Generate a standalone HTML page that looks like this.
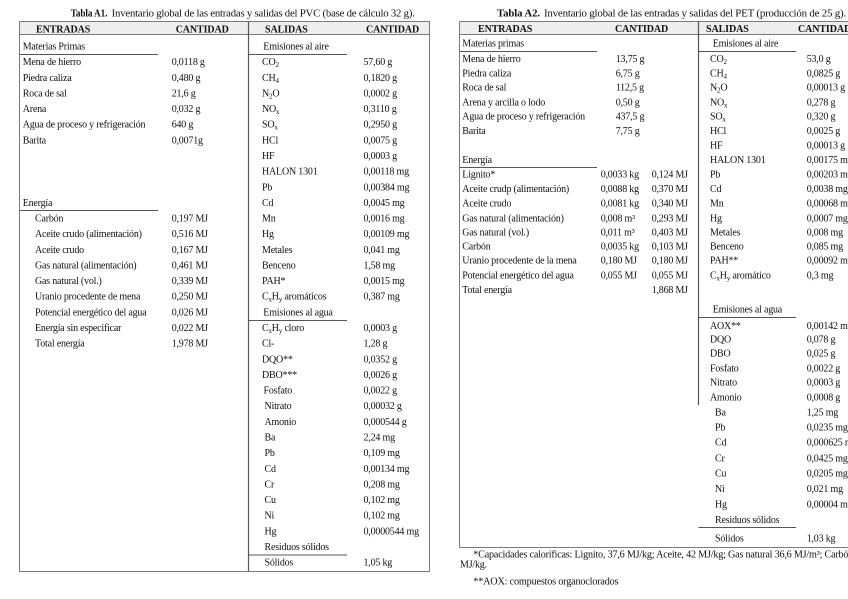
<!DOCTYPE html>
<html><head><meta charset="utf-8">
<style>
html,body{margin:0;padding:0;background:#fff;}
svg{display:block;}
text{font-family:"Liberation Serif",serif;font-size:10px;letter-spacing:-0.2px;fill:#111;}
.b{font-weight:bold;letter-spacing:-0.1px;}
.s{font-size:7px;}
</style></head>
<body>
<svg width="848" height="599" viewBox="0 0 848 599" xmlns="http://www.w3.org/2000/svg">
<rect x="0" y="0" width="848" height="599" fill="#fff"/>

<!-- ================= TABLE A1 ================= -->
<text class="b" x="70.7" y="16.5" textLength="36.6" lengthAdjust="spacingAndGlyphs">Tabla A1.</text>
<text x="111.7" y="16.5" textLength="303" lengthAdjust="spacingAndGlyphs">Inventario global de las entradas y salidas del PVC (base de cálculo 32 g).</text>

<rect x="19.5" y="21.5" width="410" height="13" fill="#eeeeee"/>
<rect x="19.5" y="21.5" width="410" height="550" fill="none" stroke="#7a7a7a" stroke-width="1"/>
<line x1="19.5" y1="34.5" x2="429.5" y2="34.5" stroke="#7a7a7a" stroke-width="1"/>
<line x1="248.5" y1="21.5" x2="248.5" y2="571.5" stroke="#555" stroke-width="1.2"/>
<line x1="19.5" y1="54.5" x2="158" y2="54.5" stroke="#555" stroke-width="1"/>
<line x1="248.5" y1="54.5" x2="347" y2="54.5" stroke="#555" stroke-width="1"/>
<line x1="19.5" y1="210.5" x2="158" y2="210.5" stroke="#555" stroke-width="1"/>
<line x1="248.5" y1="320.5" x2="347" y2="320.5" stroke="#555" stroke-width="1"/>
<line x1="248.5" y1="555" x2="347" y2="555" stroke="#555" stroke-width="1"/>

<text class="b" x="36" y="32.5">ENTRADAS</text>
<text class="b" x="175.7" y="32.5">CANTIDAD</text>
<text class="b" x="265" y="32.5">SALIDAS</text>
<text class="b" x="366" y="32.5">CANTIDAD</text>

<!-- entradas -->
<text x="22.7" y="49.5">Materias Primas</text>
<text x="22.7" y="65.1">Mena de hierro</text><text x="171.7" y="65.1">0,0118 g</text>
<text x="22.7" y="80.8">Piedra caliza</text><text x="171.7" y="80.8">0,480 g</text>
<text x="22.7" y="96.4">Roca de sal</text><text x="171.7" y="96.4">21,6 g</text>
<text x="22.7" y="112.1">Arena</text><text x="171.7" y="112.1">0,032 g</text>
<text x="22.7" y="127.7">Agua de proceso y refrigeración</text><text x="171.7" y="127.7">640 g</text>
<text x="22.7" y="143.3">Barita</text><text x="171.7" y="143.3">0,0071g</text>
<text x="22.7" y="205.9">Energía</text>
<text x="35" y="221.5">Carbón</text><text x="171.7" y="221.5">0,197 MJ</text>
<text x="35" y="237.2">Aceite crudo (alimentación)</text><text x="171.7" y="237.2">0,516 MJ</text>
<text x="35" y="252.8">Aceite crudo</text><text x="171.7" y="252.8">0,167 MJ</text>
<text x="35" y="268.5">Gas natural (alimentación)</text><text x="171.7" y="268.5">0,461 MJ</text>
<text x="35" y="284.1">Gas natural (vol.)</text><text x="171.7" y="284.1">0,339 MJ</text>
<text x="35" y="299.7">Uranio procedente de mena</text><text x="171.7" y="299.7">0,250 MJ</text>
<text x="35" y="315.4">Potencial energético del agua</text><text x="171.7" y="315.4">0,026 MJ</text>
<text x="35" y="331.0">Energía sin especificar</text><text x="171.7" y="331.0">0,022 MJ</text>
<text x="35" y="346.7">Total energía</text><text x="171.7" y="346.7">1,978 MJ</text>

<!-- salidas -->
<text x="263.3" y="49.5">Emisiones al aire</text>
<text x="262" y="65.1">CO<tspan class="s" dy="2">2</tspan></text><text x="363.5" y="65.1">57,60 g</text>
<text x="262" y="80.8">CH<tspan class="s" dy="2">4</tspan></text><text x="363.5" y="80.8">0,1820 g</text>
<text x="262" y="96.4">N<tspan class="s" dy="2">2</tspan><tspan dy="-2">O</tspan></text><text x="363.5" y="96.4">0,0002 g</text>
<text x="262" y="112.1">NO<tspan class="s" dy="2">x</tspan></text><text x="363.5" y="112.1">0,3110 g</text>
<text x="262" y="127.7">SO<tspan class="s" dy="2">x</tspan></text><text x="363.5" y="127.7">0,2950 g</text>
<text x="262" y="143.3">HCl</text><text x="363.5" y="143.3">0,0075 g</text>
<text x="262" y="159.0">HF</text><text x="363.5" y="159.0">0,0003 g</text>
<text x="262" y="174.6">HALON 1301</text><text x="363.5" y="174.6">0,00118 mg</text>
<text x="262" y="190.3">Pb</text><text x="363.5" y="190.3">0,00384 mg</text>
<text x="262" y="205.9">Cd</text><text x="363.5" y="205.9">0,0045 mg</text>
<text x="262" y="221.5">Mn</text><text x="363.5" y="221.5">0,0016 mg</text>
<text x="262" y="237.2">Hg</text><text x="363.5" y="237.2">0,00109 mg</text>
<text x="262" y="252.8">Metales</text><text x="363.5" y="252.8">0,041 mg</text>
<text x="262" y="268.5">Benceno</text><text x="363.5" y="268.5">1,58 mg</text>
<text x="262" y="284.1">PAH*</text><text x="363.5" y="284.1">0,0015 mg</text>
<text x="262" y="299.7">C<tspan class="s" dy="2">x</tspan><tspan dy="-2">H</tspan><tspan class="s" dy="2">y</tspan><tspan dy="-2"> aromáticos</tspan></text><text x="363.5" y="299.7">0,387 mg</text>
<text x="263.3" y="315.4">Emisiones al agua</text>
<text x="262" y="331.0">C<tspan class="s" dy="2">x</tspan><tspan dy="-2">H</tspan><tspan class="s" dy="2">y</tspan><tspan dy="-2"> cloro</tspan></text><text x="363.5" y="331.0">0,0003 g</text>
<text x="262" y="346.7">Cl-</text><text x="363.5" y="346.7">1,28 g</text>
<text x="262" y="362.3">DQO**</text><text x="363.5" y="362.3">0,0352 g</text>
<text x="262" y="377.9">DBO***</text><text x="363.5" y="377.9">0,0026 g</text>
<text x="263.5" y="393.6">Fosfato</text><text x="363.5" y="393.6">0,0022 g</text>
<text x="264.5" y="409.2">Nitrato</text><text x="363.5" y="409.2">0,00032 g</text>
<text x="264.5" y="424.9">Amonio</text><text x="363.5" y="424.9">0,000544 g</text>
<text x="264.5" y="440.5">Ba</text><text x="363.5" y="440.5">2,24 mg</text>
<text x="264.5" y="456.1">Pb</text><text x="363.5" y="456.1">0,109 mg</text>
<text x="264.5" y="471.8">Cd</text><text x="363.5" y="471.8">0,00134 mg</text>
<text x="264.5" y="487.4">Cr</text><text x="363.5" y="487.4">0,208 mg</text>
<text x="264.5" y="503.1">Cu</text><text x="363.5" y="503.1">0,102 mg</text>
<text x="264.5" y="518.7">Ni</text><text x="363.5" y="518.7">0,102 mg</text>
<text x="264.5" y="534.3">Hg</text><text x="363.5" y="534.3">0,0000544 mg</text>
<text x="264.5" y="550.0">Residuos sólidos</text>
<text x="264.5" y="565.6">Sólidos</text><text x="363.5" y="565.6">1,05 kg</text>

<!-- ================= TABLE A2 ================= -->
<text class="b" x="497" y="16.5" textLength="43" lengthAdjust="spacingAndGlyphs">Tabla A2.</text>
<text x="544" y="16.5" textLength="302" lengthAdjust="spacingAndGlyphs">Inventario global de las entradas y salidas del PET (producción de 25 g).</text>

<rect x="459.5" y="21.5" width="400" height="13" fill="#eeeeee"/>
<line x1="459.5" y1="21.5" x2="848" y2="21.5" stroke="#7a7a7a" stroke-width="1"/>
<line x1="459.5" y1="34.5" x2="848" y2="34.5" stroke="#7a7a7a" stroke-width="1"/>
<line x1="459.5" y1="21.5" x2="459.5" y2="547.5" stroke="#7a7a7a" stroke-width="1"/>
<line x1="459.5" y1="547.5" x2="848" y2="547.5" stroke="#7a7a7a" stroke-width="1"/>
<line x1="698.5" y1="21.5" x2="698.5" y2="405" stroke="#555" stroke-width="1.2"/>
<line x1="459.5" y1="51.5" x2="597" y2="51.5" stroke="#555" stroke-width="1"/>
<line x1="698.5" y1="51.5" x2="796" y2="51.5" stroke="#555" stroke-width="1"/>
<line x1="459.5" y1="167.5" x2="597" y2="167.5" stroke="#555" stroke-width="1"/>
<line x1="698.5" y1="317.5" x2="796" y2="317.5" stroke="#555" stroke-width="1"/>
<line x1="698.5" y1="527.5" x2="796" y2="527.5" stroke="#555" stroke-width="1"/>

<text class="b" x="478" y="31.8">ENTRADAS</text>
<text class="b" x="615" y="31.8">CANTIDAD</text>
<text class="b" x="706" y="31.8">SALIDAS</text>
<text class="b" x="798" y="31.8">CANTIDAD</text>

<!-- entradas -->
<text x="462.3" y="46.3">Materias primas</text>
<text x="462.3" y="62">Mena de hierro</text><text x="615.7" y="62">13,75 g</text>
<text x="462.3" y="76.3">Piedra caliza</text><text x="615.7" y="76.3">6,75 g</text>
<text x="462.3" y="90.7">Roca de sal</text><text x="615.7" y="90.7">112,5 g</text>
<text x="462.3" y="105.3">Arena y arcilla o lodo</text><text x="615.7" y="105.3">0,50 g</text>
<text x="462.3" y="119.7">Agua de proceso y refrigeración</text><text x="615.7" y="119.7">437,5 g</text>
<text x="462.3" y="134">Barita</text><text x="615.7" y="134">7,75 g</text>
<text x="462.3" y="163">Energía</text>
<text x="462.3" y="177.3">Lignito*</text><text x="600.7" y="177.3">0,0033 kg</text><text x="651.7" y="177.3">0,124 MJ</text>
<text x="462.3" y="192">Aceite crudp (alimentación)</text><text x="600.7" y="192">0,0088 kg</text><text x="651.7" y="192">0,370 MJ</text>
<text x="462.3" y="206.3">Aceite crudo</text><text x="600.7" y="206.3">0,0081 kg</text><text x="651.7" y="206.3">0,340 MJ</text>
<text x="462.3" y="221.3">Gas natural (alimentación)</text><text x="600.7" y="221.3">0,008 m³</text><text x="651.7" y="221.3">0,293 MJ</text>
<text x="462.3" y="235.3">Gas natural (vol.)</text><text x="600.7" y="235.3">0,011 m³</text><text x="651.7" y="235.3">0,403 MJ</text>
<text x="462.3" y="249.7">Carbón</text><text x="600.7" y="249.7">0,0035 kg</text><text x="651.7" y="249.7">0,103 MJ</text>
<text x="462.3" y="263.7">Uranio procedente de la mena</text><text x="600.7" y="263.7">0,180 MJ</text><text x="651.7" y="263.7">0,180 MJ</text>
<text x="462.3" y="278.7">Potencial energético del agua</text><text x="600.7" y="278.7">0,055 MJ</text><text x="651.7" y="278.7">0,055 MJ</text>
<text x="462.3" y="293">Total energía</text><text x="651.7" y="293">1,868 MJ</text>

<!-- salidas -->
<text x="712.7" y="46.3">Emisiones al aire</text>
<text x="710" y="62">CO<tspan class="s" dy="2">2</tspan></text><text x="806.7" y="62">53,0 g</text>
<text x="710" y="76.3">CH<tspan class="s" dy="2">4</tspan></text><text x="806.7" y="76.3">0,0825 g</text>
<text x="710" y="90.7">N<tspan class="s" dy="2">2</tspan><tspan dy="-2">O</tspan></text><text x="806.7" y="90.7">0,00013 g</text>
<text x="710" y="105.3">NO<tspan class="s" dy="2">x</tspan></text><text x="806.7" y="105.3">0,278 g</text>
<text x="710" y="119.7">SO<tspan class="s" dy="2">x</tspan></text><text x="806.7" y="119.7">0,320 g</text>
<text x="710" y="134">HCl</text><text x="806.7" y="134">0,0025 g</text>
<text x="710" y="148.7">HF</text><text x="806.7" y="148.7">0,00013 g</text>
<text x="710" y="163">HALON 1301</text><text x="806.7" y="163">0,00175 mg</text>
<text x="710" y="177.3">Pb</text><text x="806.7" y="177.3">0,00203 mg</text>
<text x="710" y="192">Cd</text><text x="806.7" y="192">0,0038 mg</text>
<text x="710" y="206.3">Mn</text><text x="806.7" y="206.3">0,00068 mg</text>
<text x="710" y="221.3">Hg</text><text x="806.7" y="221.3">0,0007 mg</text>
<text x="710" y="235.3">Metales</text><text x="806.7" y="235.3">0,008 mg</text>
<text x="710" y="249.7">Benceno</text><text x="806.7" y="249.7">0,085 mg</text>
<text x="710" y="263.7">PAH**</text><text x="806.7" y="263.7">0,00092 mg</text>
<text x="710" y="278.7">C<tspan class="s" dy="2">x</tspan><tspan dy="-2">H</tspan><tspan class="s" dy="2">y</tspan><tspan dy="-2"> aromático</tspan></text><text x="806.7" y="278.7">0,3 mg</text>
<text x="712.7" y="312.3">Emisiones al agua</text>
<text x="710" y="329">AOX**</text><text x="806.7" y="329">0,00142 mg</text>
<text x="710" y="342.3">DQO</text><text x="806.7" y="342.3">0,078 g</text>
<text x="710" y="356.3">DBO</text><text x="806.7" y="356.3">0,025 g</text>
<text x="710" y="371.3">Fosfato</text><text x="806.7" y="371.3">0,0022 g</text>
<text x="710" y="385.7">Nitrato</text><text x="806.7" y="385.7">0,0003 g</text>
<text x="710" y="400.3">Amonio</text><text x="806.7" y="400.3">0,0008 g</text>
<text x="715" y="415.3">Ba</text><text x="806.7" y="415.3">1,25 mg</text>
<text x="715" y="430.7">Pb</text><text x="806.7" y="430.7">0,0235 mg</text>
<text x="715" y="445.7">Cd</text><text x="806.7" y="445.7">0,000625 mg</text>
<text x="715" y="461.3">Cr</text><text x="806.7" y="461.3">0,0425 mg</text>
<text x="715" y="476.3">Cu</text><text x="806.7" y="476.3">0,0205 mg</text>
<text x="715" y="492">Ni</text><text x="806.7" y="492">0,021 mg</text>
<text x="715" y="507.3">Hg</text><text x="806.7" y="507.3">0,00004 mg</text>
<text x="715" y="523">Residuos sólidos</text>
<text x="715" y="541.3">Sólidos</text><text x="806.7" y="541.3">1,03 kg</text>

<!-- footnotes -->
<text x="473.3" y="557.5" textLength="375" lengthAdjust="spacingAndGlyphs">*Capacidades caloríficas: Lignito, 37,6 MJ/kg; Aceite, 42 MJ/kg; Gas natural 36,6 MJ/m³; Carbó</text>
<text x="460" y="567.3">MJ/kg.</text>
<text x="473.3" y="584.7" textLength="145" lengthAdjust="spacingAndGlyphs">**AOX: compuestos organoclorados</text>
</svg>
</body></html>
